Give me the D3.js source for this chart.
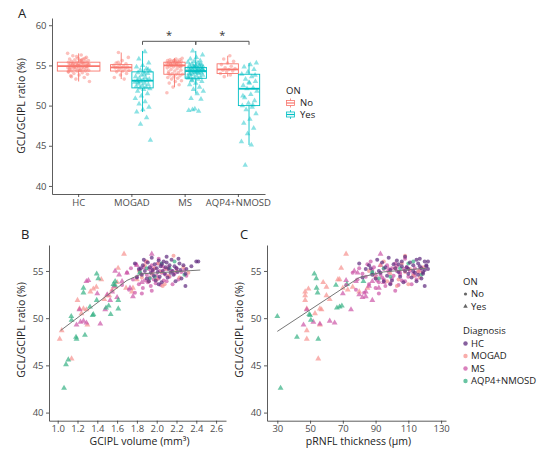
<!DOCTYPE html>
<html>
<head>
<meta charset="utf-8">
<script src="https://cdn.jsdelivr.net/npm/d3@7"></script>
<style>
  body { margin: 0; background: #fff; }
  text { font-family: "Open Sans", sans-serif; }
</style>
</head>
<body>
<div id="chart"></div>
<script>
const width = 554, height = 449;

// categories
const diagnoses = ["HC", "MOGAD", "MS", "AQP4+NMOSD"];
const onLevels = ["No", "Yes"];

// ---- panel A: GCL/GCIPL ratio per eye, by diagnosis and ON ----
const aHcNo = [56.5,56.3,56.2,56.0,55.9,55.8,55.8,55.7,55.6,55.6,55.5,55.5,55.4,55.4,55.4,55.3,55.3,55.2,55.2,55.2,55.1,55.1,55.1,55.0,55.0,55.0,55.0,54.9,54.9,54.9,54.9,54.8,54.8,54.8,54.7,54.7,54.7,54.6,54.6,54.5,54.5,54.5,54.4,54.4,54.3,54.3,54.3,54.2,54.1,54.0,53.9,53.8,53.7,53.5,53.3,53.0,55.6,55.2,54.9,55.0,54.6,55.3,54.8,55.1,54.4,53.6,55.9,56.1,54.2,55.7];
const aMogadNo = [56.6,56.0,55.6,55.3,55.2,55.1,55.0,54.9,54.8,54.8,54.7,54.7,54.6,54.5,54.4,54.3,54.2,54.0,53.8,53.5,53.3,55.4];
const aMogadYes = [56.7,55.8,55.3,55.0,54.8,54.6,54.4,54.3,54.2,54.1,54.0,53.8,53.6,53.5,53.4,53.3,53.2,53.1,53.1,53.0,52.9,52.8,52.7,52.6,52.5,52.4,52.3,52.2,52.1,52.0,51.8,51.5,51.2,50.9,50.5,50.2,49.8,49.5,49.2,48.5,47.7,45.7,53.9,52.9,54.5];
const aMsNo = [55.9,55.8,55.7,55.7,55.6,55.6,55.5,55.5,55.5,55.4,55.4,55.4,55.3,55.3,55.2,55.2,55.2,55.1,55.1,55.0,55.0,55.0,55.0,54.9,54.9,54.8,54.7,54.6,54.5,54.4,54.3,54.2,54.1,54.0,53.9,53.9,53.8,53.7,53.6,53.5,53.4,53.3,53.1,53.0,52.8,52.6,52.3,51.6,55.3,55.1,54.8,55.6,54.0];
const aMsYes = [56.8,56.3,56.0,55.8,55.6,55.5,55.4,55.3,55.2,55.1,55.0,55.0,54.9,54.9,54.8,54.8,54.7,54.7,54.7,54.6,54.6,54.5,54.5,54.4,54.4,54.3,54.3,54.3,54.2,54.2,54.1,54.1,54.0,54.0,53.9,53.8,53.7,53.6,53.5,53.4,53.4,53.3,53.2,53.0,52.8,52.6,52.3,52.0,51.8,51.5,50.9,50.8,49.6,49.4,49.3,49.5,54.6,54.2,53.9,55.2,54.8,53.6,54.4,53.1];
const aAqpNo = [56.2,55.8,55.5,55.3,55.1,54.9,54.7,54.6,54.5,54.4,54.3,54.2,54.0,53.8,53.6];
const aAqpYes = [55.3,55.1,54.8,54.5,54.2,53.9,53.6,53.3,53.0,52.8,52.5,52.2,52.1,51.8,51.4,51.0,50.6,50.3,50.0,49.8,49.5,49.0,48.3,47.8,47.2,46.5,45.5,45.1,42.6,53.8,52.9,51.2,50.1];

// box statistics, one entry per group
const boxDx = ["HC", "MOGAD", "MOGAD", "MS", "MS", "AQP4+NMOSD", "AQP4+NMOSD"];
const boxOn = ["No", "No", "Yes", "No", "Yes", "No", "Yes"];
const boxPts = [aHcNo, aMogadNo, aMogadYes, aMsNo, aMsYes, aAqpNo, aAqpYes];
const whiskerLow  = [53.0, 53.3, 49.2, 52.3, 51.5, 53.6, 45.1];
const boxQ1       = [54.3, 54.3, 52.2, 53.9, 53.4, 54.0, 50.0];
const boxMedian   = [54.9, 54.75, 53.1, 55.0, 54.3, 54.5, 52.1];
const boxQ3       = [55.4, 55.1, 54.2, 55.4, 54.75, 55.2, 53.9];
const whiskerHigh = [56.5, 56.6, 56.8, 55.9, 56.8, 56.2, 55.3];

// significance brackets (between the ON = Yes groups)
const sigFrom = ["MOGAD", "MS"];
const sigTo = ["MS", "AQP4+NMOSD"];
const sigLevel = 58.0;

const aTicks = [40, 45, 50, 55, 60];

// ---- panels B/C: [GCIPL volume, pRNFL thickness, GCL/GCIPL ratio] per eye ----
const hcNo = [[1.78,80,55.8],[1.82,84,55.2],[1.85,88,54.6],[1.86,86,55.6],[1.88,92,55.0],[1.90,90,54.2],[1.91,94,55.9],[1.93,96,55.4],[1.94,93,54.8],[1.95,98,56.4],[1.96,99,55.1],[1.97,97,54.5],[1.98,101,55.7],[1.99,100,54.0],[2.00,102,55.3],[2.01,104,54.9],[2.02,103,56.1],[2.03,105,54.4],[2.04,106,55.5],[2.05,107,53.8],[2.06,108,55.0],[2.07,106,56.0],[2.08,110,54.7],[2.09,109,55.4],[2.10,111,55.9],[2.11,112,54.3],[2.12,110,55.2],[2.13,113,55.6],[2.14,114,54.8],[2.15,115,56.2],[2.16,113,55.0],[2.17,116,54.6],[2.18,117,55.5],[2.19,115,53.9],[2.20,118,55.3],[2.21,119,54.9],[2.22,117,56.3],[2.24,120,55.1],[2.25,118,54.2],[2.27,121,55.6],[2.29,119,54.7],[2.30,122,55.2],[2.29,120,53.4],[2.35,121,55.5],[2.40,122,56.0],[2.42,120,56.0],[1.80,82,54.3],[1.87,91,56.2],[2.02,99,53.6],[2.23,116,55.8],[1.92,95,53.9],[2.10,108,56.5],[1.84,87,55.3],[2.05,104,55.7]];
const mogadNo = [[1.82,86,55.0],[1.85,90,54.3],[1.88,93,55.6],[1.92,97,53.9],[1.95,99,54.7],[1.98,102,55.3],[2.00,104,54.1],[2.02,106,55.8],[2.05,108,54.9],[2.08,110,53.6],[2.10,111,55.2],[2.12,113,54.5],[2.17,108,56.6],[2.20,116,55.0],[2.23,117,54.3],[2.27,119,55.4],[2.32,118,54.8],[1.90,95,56.0],[2.06,103,53.4]];
const mogadYes = [[1.02,48,47.8],[1.04,48,48.7],[1.14,55,45.7],[1.20,47,51.9],[1.22,48,51.0],[1.24,53,50.5],[1.26,56,51.0],[1.29,57,50.9],[1.30,56,49.3],[1.33,47,52.8],[1.36,49,53.1],[1.39,60,53.3],[1.44,68,54.1],[1.47,62,52.0],[1.50,60,52.4],[1.52,47,52.4],[1.55,73,53.0],[1.58,76,53.3],[1.61,69,55.3],[1.67,72,56.8],[1.69,70,53.2],[1.75,80,52.8],[1.76,85,53.2],[1.80,67,54.1],[1.60,58,53.8]];
const msNo = [[1.65,72,53.5],[1.70,76,54.8],[1.72,78,53.0],[1.74,80,55.3],[1.76,79,54.1],[1.78,83,52.7],[1.79,85,55.7],[1.80,84,54.4],[1.82,86,53.6],[1.83,88,55.1],[1.84,82,54.7],[1.86,90,53.2],[1.87,89,55.4],[1.88,91,54.0],[1.89,87,56.0],[1.90,93,54.6],[1.91,92,53.8],[1.92,95,55.2],[1.93,94,54.3],[1.94,96,53.4],[1.95,97,55.6],[1.96,98,54.9],[1.97,95,54.1],[1.98,100,55.3],[1.99,99,53.7],[2.00,101,54.5],[2.01,102,55.8],[2.02,100,54.2],[2.03,103,55.0],[2.04,104,53.5],[2.05,105,54.8],[2.06,103,55.5],[2.07,106,54.0],[2.08,107,55.2],[2.09,105,54.6],[2.10,108,53.9],[2.12,109,55.4],[2.13,110,54.4],[2.15,111,55.0],[2.16,112,53.6],[2.18,113,54.7],[2.20,114,55.3],[2.22,115,54.1],[2.25,116,54.9],[2.28,117,55.1],[2.30,114,54.5],[1.85,92,52.6],[1.95,102,52.9],[2.02,108,56.3]];
const msYes = [[1.19,46,49.3],[1.23,52,49.6],[1.43,56,49.4],[1.22,48,50.9],[1.26,62,49.7],[1.29,65,49.5],[1.31,72,54.0],[1.29,78,53.9],[1.48,75,50.9],[1.50,80,52.5],[1.53,88,51.9],[1.55,84,52.8],[1.57,86,53.4],[1.60,82,52.2],[1.62,90,54.6],[1.65,88,53.9],[1.70,79,54.8],[1.73,92,53.2],[1.76,84,52.3],[1.80,93,55.6],[1.85,95,53.8],[1.95,93,56.8],[1.95,98,55.2],[1.40,70,52.6],[1.58,77,55.0]];
const aqpNo = [[1.83,88,54.9],[1.90,95,55.3],[2.05,110,55.8],[2.13,105,55.3],[2.28,118,54.6],[1.98,99,54.4],[2.18,113,56.0],[1.93,92,54.2]];
const aqpYes = [[1.064,32,42.6],[1.084,null,45.1],[1.107,null,45.6],[1.137,30,50.2],[1.14,50.5,49.8],[1.185,42,48.0],[1.19,55,47.8],[1.26,54,53.2],[1.26,54.6,52.7],[1.275,null,48.2],[1.326,68,51.2],[1.353,50,50.3],[1.36,49.5,50.4],[1.394,52.6,54.7],[1.41,53.8,54.2],[1.394,null,51.9],[1.488,66.4,51.1],[1.515,69.4,51.3],[1.535,null,50.4],[1.612,null,51.0],[1.612,null,51.9],[1.579,65.8,53.5],[1.563,72.5,53.6],[1.58,82.6,53.9],[1.83,88,54.8]];

const scatterGroups = [mogadYes, msYes, aqpYes, msNo, mogadNo, aqpNo, hcNo];
const scatterDx = ["MOGAD", "MS", "AQP4+NMOSD", "MS", "MOGAD", "AQP4+NMOSD", "HC"];
const scatterOn = ["Yes", "Yes", "Yes", "No", "No", "No", "No"];

// fitted lines
const fitBx = [1.03, 1.70, 1.85, 2.44];
const fitBy = [48.7, 54.0, 54.7, 55.1];
const fitCx = [30, 80, 95, 121];
const fitCy = [48.6, 54.3, 54.9, 55.3];

const bTicks = [1.0, 1.2, 1.4, 1.6, 1.8, 2.0, 2.2, 2.4, 2.6];
const cTicks = [30, 50, 70, 90, 110, 130];
const bcYTicks = [40, 45, 50, 55];

// colours
const onColor = d3.scaleOrdinal().domain(onLevels).range(["#F8766D", "#00BFC4"]);
const dxColor = d3.scaleOrdinal().domain(diagnoses).range(["#5e2a7e", "#f7918f", "#cc55a6", "#35b083"]);
const axisColor = "#333", tickText = "#4d4d4d";

const svg = d3.select("#chart").append("svg")
  .attr("width", width).attr("height", height)
  .style("background", "#fff");

// little helper for axis styling
function styleAxis(g) {
  g.select(".domain").attr("stroke", axisColor).attr("stroke-width", 0.8);
  g.selectAll(".tick line").attr("stroke", axisColor).attr("stroke-width", 0.8);
  g.selectAll(".tick text").attr("fill", tickText).style("font-size", "9.5px")
    .style("font-family", "'Open Sans', sans-serif");
}

// jitter offset from index (deterministic)
const jit = i => ((i * 0.61803398875) % 1) - 0.5;

/////////////////// panel A
const ax = d3.scaleBand().domain(diagnoses).range([52, 265]);
const ay = d3.scaleLinear().domain([39.0, 60.9]).range([194, 18]);
const bw = ax.bandwidth();

function groupCenter(dx, on) {
  const c = ax(dx) + bw / 2;
  if (dx === "HC") return c;
  return c + (on === "No" ? -1 : 1) * bw * 0.2;
}

svg.append("g").attr("transform", "translate(52,0)")
  .call(d3.axisLeft(ay).tickValues(aTicks).tickSize(3).tickPadding(2.5).tickSizeOuter(0))
  .call(styleAxis);
svg.append("g").attr("transform", "translate(0,194)")
  .call(d3.axisBottom(ax).tickSize(3).tickPadding(2).tickSizeOuter(0))
  .call(styleAxis);

const boxes = svg.append("g");
boxDx.forEach((dx, i) => {
  const cx = groupCenter(dx, boxOn[i]);
  const w = dx === "HC" ? bw * 0.8 : bw * 0.4;
  const col = onColor(boxOn[i]);
  const g = boxes.append("g").attr("stroke", col).attr("fill", "none");
  g.append("line").attr("x1", cx).attr("x2", cx).attr("y1", ay(whiskerLow[i])).attr("y2", ay(boxQ1[i])).attr("stroke-width", 0.9);
  g.append("line").attr("x1", cx).attr("x2", cx).attr("y1", ay(boxQ3[i])).attr("y2", ay(whiskerHigh[i])).attr("stroke-width", 0.9);
  g.append("rect").attr("x", cx - w / 2).attr("width", w)
    .attr("y", ay(boxQ3[i])).attr("height", ay(boxQ1[i]) - ay(boxQ3[i]))
    .attr("fill", "#fff").attr("fill-opacity", 0.3).attr("stroke-width", 0.9);
  g.append("line").attr("x1", cx - w / 2).attr("x2", cx + w / 2)
    .attr("y1", ay(boxMedian[i])).attr("y2", ay(boxMedian[i])).attr("stroke-width", 1.8);

  // jittered points
  const jw = dx === "HC" ? 22 : 16;
  boxPts[i].forEach((v, k) => {
    const px = cx + jit(k + i * 7) * jw;
    if (boxOn[i] === "No") {
      svg.append("circle").attr("cx", px).attr("cy", ay(v)).attr("r", 1.8)
        .attr("fill", col).attr("fill-opacity", 0.45);
    } else {
      svg.append("path").attr("d", d3.symbol(d3.symbolTriangle, 13)())
        .attr("transform", `translate(${px},${ay(v)})`)
        .attr("fill", col).attr("fill-opacity", 0.45);
    }
  });
});

// significance brackets
sigFrom.forEach((f, i) => {
  const x1 = groupCenter(f, "Yes"), x2 = groupCenter(sigTo[i], "Yes");
  const y = ay(sigLevel);
  svg.append("path")
    .attr("d", `M${x1},${y + 3.5}V${y}H${x2}V${y + 3.5}`)
    .attr("fill", "none").attr("stroke", "#555").attr("stroke-width", 1);
  svg.append("text").attr("x", (x1 + x2) / 2).attr("y", y - 2)
    .attr("text-anchor", "middle").style("font-size", "11px").attr("fill", "#333").text("*");
});

svg.append("text").attr("transform", "translate(25,106) rotate(-90)")
  .attr("text-anchor", "middle").style("font-size", "10.5px").attr("fill", "#222")
  .text("GCL/GCIPL ratio (%)");
svg.append("text").attr("x", 18).attr("y", 18).style("font-size", "13px").attr("fill", "#222").text("A");

// legend A
svg.append("text").attr("x", 286).attr("y", 94).style("font-size", "9.5px").attr("fill", "#222").text("ON");
onLevels.forEach((on, i) => {
  const y = 103 + i * 11.5;
  const g = svg.append("g").attr("stroke", onColor(on)).attr("fill", "none").attr("stroke-width", 0.8);
  g.append("line").attr("x1", 290.5).attr("x2", 290.5).attr("y1", y - 4.5).attr("y2", y + 4.5);
  g.append("rect").attr("x", 286.5).attr("y", y - 2.5).attr("width", 8).attr("height", 5).attr("fill", "#fff");
  g.append("line").attr("x1", 286.5).attr("x2", 294.5).attr("y1", y).attr("y2", y).attr("stroke-width", 1.2);
  svg.append("text").attr("x", 300).attr("y", y + 3.3).style("font-size", "9.5px").attr("fill", "#222").text(on);
});

/////////////////// panels B and C
const py = d3.scaleLinear().domain([39.14, 57.75]).range([420.7, 245]);
const bx = d3.scaleLinear().domain([0.912, 2.70]).range([49, 226]);
const cx = d3.scaleLinear().domain([23.7, 133]).range([267, 446]);

function scatterPanel(xs, left, xIdx, ticks, fmt, fitX, fitY, title, label, labelX) {
  svg.append("g").attr("transform", `translate(${left},0)`)
    .call(d3.axisLeft(py).tickValues(bcYTicks).tickSize(3).tickPadding(2.5).tickSizeOuter(0))
    .call(styleAxis);
  svg.append("g").attr("transform", "translate(0,420.7)")
    .call(d3.axisBottom(xs).tickValues(ticks).tickFormat(fmt).tickSize(3).tickPadding(2).tickSizeOuter(0))
    .call(styleAxis);

  scatterGroups.forEach((grp, gi) => {
    const col = dxColor(scatterDx[gi]);
    grp.filter(d => d[xIdx] !== null).forEach(d => {
      if (scatterOn[gi] === "No") {
        svg.append("circle").attr("cx", xs(d[xIdx])).attr("cy", py(d[2])).attr("r", 2)
          .attr("fill", col).attr("fill-opacity", 0.7);
      } else {
        svg.append("path").attr("d", d3.symbol(d3.symbolTriangle, 15)())
          .attr("transform", `translate(${xs(d[xIdx])},${py(d[2])})`)
          .attr("fill", col).attr("fill-opacity", 0.7);
      }
    });
  });

  svg.append("path")
    .datum(fitX.map((x, i) => [x, fitY[i]]))
    .attr("d", d3.line().x(d => xs(d[0])).y(d => py(d[1])))
    .attr("fill", "none").attr("stroke", "#777").attr("stroke-width", 1);

  const [r0, r1] = xs.range();
  svg.append("text").attr("x", (r0 + r1) / 2 + 2).attr("y", 445)
    .attr("text-anchor", "middle").style("font-size", "10.5px").attr("fill", "#222").text(title);
  svg.append("text").attr("transform", `translate(${left - 24},330) rotate(-90)`)
    .attr("text-anchor", "middle").style("font-size", "10.5px").attr("fill", "#222")
    .text("GCL/GCIPL ratio (%)");
  svg.append("text").attr("x", labelX).attr("y", 238.5).style("font-size", "13px").attr("fill", "#222").text(label);
}

scatterPanel(bx, 49, 0, bTicks, d3.format(".1f"), fitBx, fitBy, "GCIPL volume (mm³)", "B", 21);
scatterPanel(cx, 267, 1, cTicks, d3.format("d"), fitCx, fitCy, "pRNFL thickness (µm)", "C", 240);

// legend B/C
const lg = svg.append("g").attr("transform", "translate(463,0)");
lg.append("text").attr("x", 0).attr("y", 285).style("font-size", "9.5px").attr("fill", "#222").text("ON");
onLevels.forEach((on, i) => {
  const y = 294 + i * 12.5;
  if (on === "No") lg.append("circle").attr("cx", 2.5).attr("cy", y).attr("r", 1.6).attr("fill", "#666");
  else lg.append("path").attr("d", d3.symbol(d3.symbolTriangle, 9)()).attr("transform", `translate(2.5,${y})`).attr("fill", "#666");
  lg.append("text").attr("x", 8).attr("y", y + 3.3).style("font-size", "9.5px").attr("fill", "#222").text(on);
});
lg.append("text").attr("x", 0).attr("y", 333.5).style("font-size", "9.5px").attr("fill", "#222").text("Diagnosis");
diagnoses.forEach((dx, i) => {
  const y = 343.5 + i * 12.5;
  lg.append("circle").attr("cx", 2.5).attr("cy", y).attr("r", 2.2).attr("fill", dxColor(dx)).attr("fill-opacity", 0.75);
  lg.append("text").attr("x", 8).attr("y", y + 3.3).style("font-size", "9.5px").attr("fill", "#222").text(dx);
});
</script>
</body>
</html>
